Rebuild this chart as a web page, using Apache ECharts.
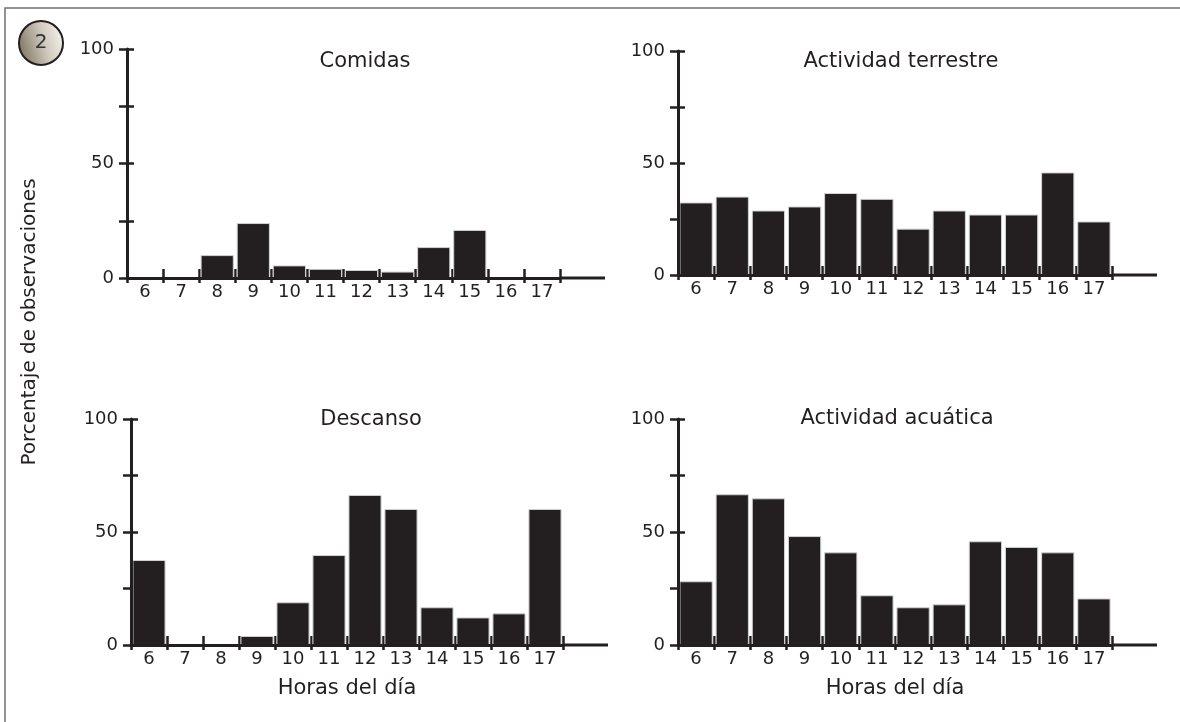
<!DOCTYPE html>
<html>
<head>
<meta charset="utf-8">
<script src="https://cdn.jsdelivr.net/npm/echarts@6/dist/echarts.min.js"></script>
<style>
html,body{margin:0;padding:0;background:#fff;}
#chart{width:1180px;height:722px;}
</style>
</head>
<body>
<div id="chart"></div>
<script>
// ---- data ----
const hours = ['6','7','8','9','10','11','12','13','14','15','16','17'];
const comidas   = [0, 0, 10, 24, 5.5, 4, 3.5, 2.8, 13.5, 21, 0, 0];
const terrestre = [32.4, 35, 28.8, 30.6, 36.6, 34, 20.7, 28.8, 27, 27, 45.8, 23.9];
const descanso  = [37.6, 0, 0, 4, 18.9, 39.8, 66.4, 60.2, 16.7, 12.2, 14, 60.2];
const acuatica  = [28.2, 66.7, 64.9, 48.2, 41, 22, 16.7, 18, 45.9, 43.4, 41, 20.6];
const panelTitles = ['Comidas', 'Actividad terrestre', 'Descanso', 'Actividad acuática'];
const yTickLabels = ['0', '50', '100'];
const xAxisTitle = 'Horas del día';
const yAxisTitle = 'Porcentaje de observaciones';
const badgeText = '2';

// ---- layout / style ----
const ink = '#231f20';
const font = 'DejaVu Sans';
const grids = [
  {left:127, top:49,  width:433, height:229},
  {left:678, top:51,  width:434, height:224},
  {left:131, top:419, width:432, height:226},
  {left:678, top:419, width:434, height:226}
];
const titlePos = [[365, 62], [901, 62], [371, 420], [897, 419]];
const series = [comidas, terrestre, descanso, acuatica];
const showXName = [false, false, true, true];
const axisExt = 45;

const option = {
  backgroundColor: '#fff',
  animation: false,
  grid: [],
  xAxis: [],
  yAxis: [],
  series: [],
  graphic: []
};

grids.forEach((g) => {
  option.grid.push({left:g.left, top:g.top, width:g.width, height:g.height, containLabel:false});
});
grids.forEach((g) => {
  option.grid.push({left:g.left, top:g.top, width:g.width, height:g.height, containLabel:false});
});

grids.forEach((g, i) => {
  option.xAxis.push({
    type:'category', gridIndex:i, data:hours, z:3,
    axisLine:{lineStyle:{color:ink, width:3}},
    axisTick:{show:true, length:5, lineStyle:{color:ink, width:2.5}},
    axisLabel:{margin:5, fontSize:18, color:ink, fontFamily:font, interval:0},
    name: showXName[i] ? xAxisTitle : '',
    nameLocation:'middle', nameGap:33,
    nameTextStyle:{fontSize:21, color:ink, fontFamily:font}
  });
  option.yAxis.push({
    type:'value', gridIndex:i, min:0, max:100, interval:25, z:3,
    axisLine:{show:true, lineStyle:{color:ink, width:3}},
    axisTick:{show:true, length:8, lineStyle:{color:ink, width:2.5}},
    splitLine:{show:false},
    axisLabel:{margin:13, fontSize:18, color:ink, fontFamily:font,
      formatter: v => (yTickLabels.indexOf(String(v)) >= 0 ? String(v) : '')}
  });
});
grids.forEach((g, i) => {
  option.xAxis.push({
    type:'category', gridIndex:i + 4, data:hours, z:0,
    axisLine:{show:false},
    axisTick:{show:true, inside:true, length:9, lineStyle:{color:ink, width:2.5}},
    axisLabel:{show:false}
  });
  option.yAxis.push({
    type:'value', gridIndex:i + 4, min:0, max:100, interval:25, z:0,
    axisLine:{show:false},
    axisTick:{show:true, inside:true, length:7, lineStyle:{color:ink, width:2.5}},
    splitLine:{show:false},
    axisLabel:{show:false}
  });
});

grids.forEach((g, i) => {
  option.series.push({
    type:'bar', xAxisIndex:i, yAxisIndex:i, data:series[i],
    barCategoryGap:'8%', z:2,
    itemStyle:{color:ink, borderColor:'#d2d2d2', borderWidth:1}
  });
  option.graphic.push({
    type:'line', z:10,
    shape:{x1:g.left + g.width, y1:g.top + g.height, x2:g.left + g.width + axisExt, y2:g.top + g.height},
    style:{stroke:ink, lineWidth:3}
  });
  option.graphic.push({
    type:'text', x:titlePos[i][0], y:titlePos[i][1],
    style:{text:panelTitles[i], fill:ink, font:'21px "' + font + '"', textAlign:'center', textVerticalAlign:'middle'}
  });
});

option.graphic.push({
  type:'rect', shape:{x:5, y:8, width:1200, height:740},
  style:{fill:'none', stroke:'#707070', lineWidth:1.5}, z:0
});
option.graphic.push({
  type:'text', x:30, y:322, rotation:Math.PI/2,
  style:{text:yAxisTitle, fill:ink, font:'20px "' + font + '"', textAlign:'center', textVerticalAlign:'middle'}
});
option.graphic.push({
  type:'circle', shape:{cx:41, cy:43, r:22},
  style:{
    fill:{type:'linear', x:0, y:0.6, x2:1, y2:0.3, colorStops:[
      {offset:0, color:'#7f7562'}, {offset:0.55, color:'#cfc8bb'}, {offset:1, color:'#f6f4f0'}]},
    stroke:ink, lineWidth:2
  }
});
option.graphic.push({
  type:'text', x:41, y:43,
  style:{text:badgeText, fill:'#333', font:'20px "' + font + '"', textAlign:'center', textVerticalAlign:'middle'}
});

const chart = echarts.init(document.getElementById('chart'), null, {renderer:'canvas'});
chart.setOption(option);
</script>
</body>
</html>
